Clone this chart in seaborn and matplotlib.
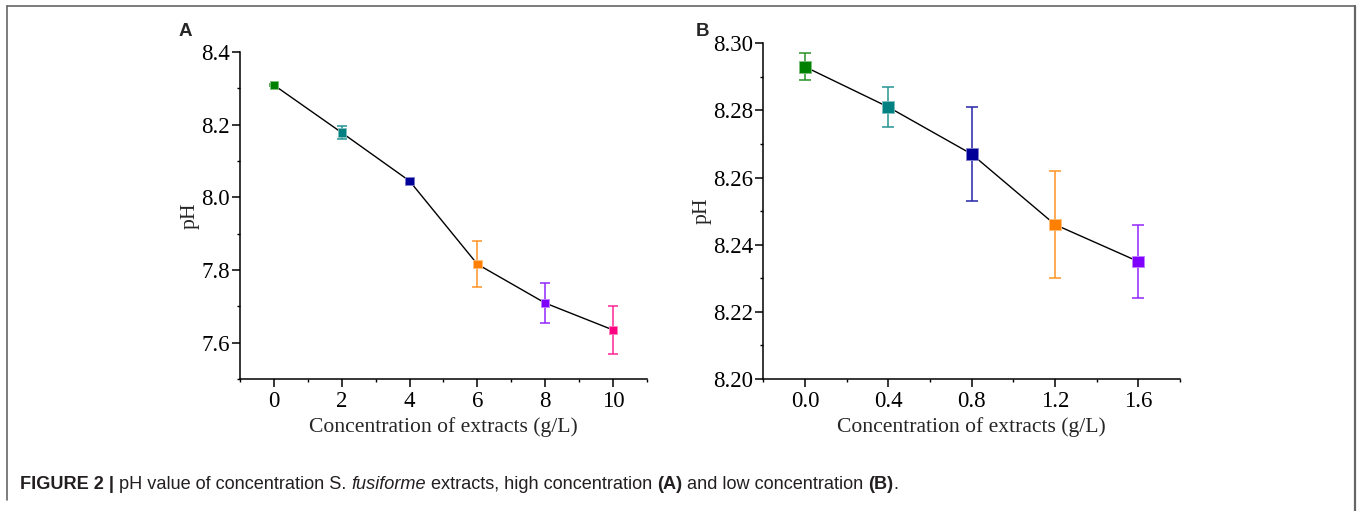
import numpy as np
import pandas as pd
import matplotlib
matplotlib.use("Agg")
import matplotlib.pyplot as plt
from matplotlib.ticker import MultipleLocator, FormatStrFormatter
import seaborn as sns

# -------------------------------
# Data
# -------------------------------
conc_a = [0, 2, 4, 6, 8, 10]
ph_a = [8.309, 8.178, 8.045, 7.816, 7.709, 7.635]
err_a = [0.003, 0.017, 0.005, 0.064, 0.056, 0.065]
colors_a = ["#008000", "#008080", "#000099", "#FF8000", "#8000FF", "#FF0080"]

conc_b = [0.0, 0.4, 0.8, 1.2, 1.6]
ph_b = [8.293, 8.281, 8.267, 8.246, 8.235]
err_b = [0.004, 0.006, 0.014, 0.016, 0.011]
colors_b = ["#008000", "#008080", "#000099", "#FF8000", "#8000FF"]

caption_parts = [
    ("FIGURE 2 |", "bold", "normal"),
    (" pH value of concentration S. ", "normal", "normal"),
    ("fusiforme", "normal", "italic"),
    (" extracts, high concentration ", "normal", "normal"),
    ("(A)", "bold", "normal"),
    (" and low concentration ", "normal", "normal"),
    ("(B)", "bold", "normal"),
    (".", "normal", "normal"),
]

# -------------------------------
# Style
# -------------------------------
sns.set_theme(style="ticks")
plt.rcParams["font.family"] = ["Liberation Serif", "DejaVu Serif"]
plt.rcParams["axes.linewidth"] = 1.1
plt.rcParams["xtick.major.width"] = 1.1
plt.rcParams["ytick.major.width"] = 1.1
plt.rcParams["xtick.minor.width"] = 1.0
plt.rcParams["ytick.minor.width"] = 1.0
plt.rcParams["xtick.major.size"] = 5.5
plt.rcParams["ytick.major.size"] = 5.5
plt.rcParams["xtick.minor.size"] = 2.5
plt.rcParams["ytick.minor.size"] = 2.5
plt.rcParams["xtick.color"] = "black"
plt.rcParams["ytick.color"] = "black"
plt.rcParams["axes.edgecolor"] = "black"

fig = plt.figure(figsize=(13.58, 5.11), dpi=100)
ax_a = fig.add_axes([0.1767, 0.2583, 0.2997, 0.640])
ax_b = fig.add_axes([0.5621, 0.2583, 0.3068, 0.657])


def lighten(c, amt=0.45):
    rgb = np.array(matplotlib.colors.to_rgb(c))
    return tuple(rgb + (1 - rgb) * amt)


def draw_panel(ax, x, y, err, cols, msize, xlim, ylim, xmaj, xmin, ymaj, ymin, fmt):
    df = pd.DataFrame({"x": x, "y": y})
    sns.lineplot(data=df, x="x", y="y", color="black", linewidth=1.0, ax=ax, zorder=2)
    for xi, yi, ei, c in zip(x, y, err, cols):
        ax.errorbar(xi, yi, yerr=ei, fmt="none", ecolor=lighten(c, 0.15),
                    elinewidth=1.1, capsize=msize * 0.55, capthick=1.1, zorder=3)
    sns.scatterplot(data=df.assign(c=[str(i) for i in range(len(x))]), x="x", y="y",
                    hue="c", palette=cols, marker="s", s=msize ** 2,
                    edgecolor=[lighten(c, 0.5) for c in cols], linewidth=0.6,
                    legend=False, ax=ax, zorder=4)
    ax.set_xlim(*xlim)
    ax.set_ylim(*ylim)
    ax.xaxis.set_major_locator(MultipleLocator(xmaj))
    ax.xaxis.set_minor_locator(MultipleLocator(xmin))
    ax.yaxis.set_major_locator(MultipleLocator(ymaj))
    ax.yaxis.set_minor_locator(MultipleLocator(ymin))
    ax.xaxis.set_major_formatter(FormatStrFormatter(fmt[0]))
    ax.yaxis.set_major_formatter(FormatStrFormatter(fmt[1]))
    ax.tick_params(axis="both", which="both", direction="out", labelsize=16.5)
    ax.tick_params(axis="y", pad=1.5)
    ax.tick_params(axis="x", pad=3)
    ax.set_xlabel("Concentration of extracts (g/L)", fontsize=15.6, labelpad=4)
    ax.set_ylabel("pH", fontsize=15.6, labelpad=1)
    sns.despine(ax=ax)


draw_panel(ax_a, conc_a, ph_a, err_a, colors_a, 6.0, (-1, 11), (7.5, 8.4),
           2, 1, 0.2, 0.1, ("%d", "%.1f"))
draw_panel(ax_b, conc_b, ph_b, err_b, colors_b, 8.5, (-0.2, 1.8), (8.20, 8.30),
           0.4, 0.2, 0.02, 0.01, ("%.1f", "%.2f"))

# panel letters
fig.text(185 / 1358, 1 - 32 / 511, "A", fontsize=13.5, fontweight="bold",
         family="Liberation Sans", ha="center", va="center")
fig.text(702 / 1358, 1 - 32 / 511, "B", fontsize=13.5, fontweight="bold",
         family="Liberation Sans", ha="center", va="center")

# frame around the figure (top, left, right)
frame_col = "#666666"
fig.add_artist(plt.Line2D([7 / 1358, 7 / 1358], [1 - 500 / 511, 1 - 6 / 511],
                          color=frame_col, lw=1.2, transform=fig.transFigure))
fig.add_artist(plt.Line2D([7 / 1358, 1355 / 1358], [1 - 6 / 511, 1 - 6 / 511],
                          color=frame_col, lw=1.2, transform=fig.transFigure))
fig.add_artist(plt.Line2D([1355 / 1358, 1355 / 1358], [0, 1 - 6 / 511],
                          color=frame_col, lw=1.6, transform=fig.transFigure))

# caption, built piece by piece
caption_texts = []
for txt, weight, style in caption_parts:
    t = fig.text(0, 1 - 489 / 511, txt, fontsize=13.1, family="Liberation Sans",
                 fontweight=weight, fontstyle=style, color="#231F20",
                 va="baseline", ha="left")
    caption_texts.append(t)

fig.canvas.draw()
r = fig.canvas.get_renderer()
x0 = 20
for t in caption_texts:
    t.set_position((x0 / 1358, 1 - 489 / 511))
    x0 += t.get_window_extent(renderer=r).width

fig.savefig("out.png", dpi=100)
